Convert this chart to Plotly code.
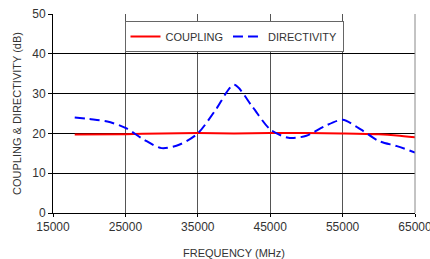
import plotly.graph_objects as go

freq_dir = [18000, 20000, 22500, 25000, 27500, 30000, 32500, 35000, 37500, 40000,
            42500, 45000, 47500, 50000, 52500, 55000, 57500, 60000, 62500, 65000]
directivity = [24.0, 23.6, 23.0, 21.4, 18.5, 16.3, 17.2, 20.0, 26.0, 32.2,
               26.8, 21.0, 18.9, 19.4, 21.8, 23.4, 21.0, 18.1, 16.8, 15.2]

freq_cpl = [18000, 25000, 30000, 35000, 40000, 45000, 50000, 55000, 60000, 62500, 65000]
coupling = [19.7, 19.8, 20.0, 20.1, 20.0, 20.1, 20.1, 20.0, 19.8, 19.5, 19.0]

x_ticks = [15000, 25000, 35000, 45000, 55000, 65000]
y_ticks = [0, 10, 20, 30, 40, 50]

font = "Liberation Sans, Arial, sans-serif"

fig = go.Figure()
fig.add_trace(go.Scatter(x=freq_cpl, y=coupling, mode="lines", name="COUPLING",
                         line=dict(color="#ff0000", width=2, shape="spline", smoothing=0.8)))
fig.add_trace(go.Scatter(x=freq_dir, y=directivity, mode="lines", name="DIRECTIVITY",
                         line=dict(color="#0000ff", width=2, dash="10px,5px",
                                   shape="spline", smoothing=0.8)))

fig.update_layout(
    width=430, height=259,
    margin=dict(l=53, r=15, t=14, b=46, autoexpand=False),
    paper_bgcolor="white", plot_bgcolor="white",
    font=dict(family=font, size=12, color="#333"),
    showlegend=True,
    legend=dict(orientation="h", x=0.5, y=0.965, xanchor="center", yanchor="top",
                bgcolor="white", bordercolor="#666", borderwidth=1,
                font=dict(size=11, color="#333"), itemwidth=30,
                tracegroupgap=0),
    xaxis=dict(range=[15000, 65000], tickvals=x_ticks,
               ticktext=[str(v) for v in x_ticks],
               showgrid=True, gridcolor="#555", gridwidth=1,
               showline=True, linecolor="black", linewidth=1,
               ticks="outside", ticklen=3, tickcolor="black",
               ticklabeloverflow="allow",
               zeroline=False, fixedrange=True,
               title=dict(text="FREQUENCY (MHz)", font=dict(size=11), standoff=18),
               automargin=False),
    yaxis=dict(range=[0, 50], tickvals=y_ticks,
               showgrid=True, gridcolor="black", gridwidth=1,
               showline=True, linecolor="black", linewidth=1,
               ticks="outside", ticklen=4, tickcolor="black",
               ticklabeloverflow="allow",
               zeroline=False, fixedrange=True,
               title=dict(text="COUPLING &amp; DIRECTIVITY (dB)", font=dict(size=11), standoff=8),
               automargin=False),
)
fig.add_shape(type="line", xref="paper", yref="paper", x0=1, x1=1, y0=0, y1=1,
              line=dict(color="#888", width=1))

fig.write_html("out.html", config={"displayModeBar": False, "staticPlot": True})

with open("out.html", "r", encoding="utf-8") as f:
    html = f.read()
html = html.replace("<body>", '<body style="margin:0;padding:0;overflow:hidden">', 1)
with open("out.html", "w", encoding="utf-8") as f:
    f.write(html)
